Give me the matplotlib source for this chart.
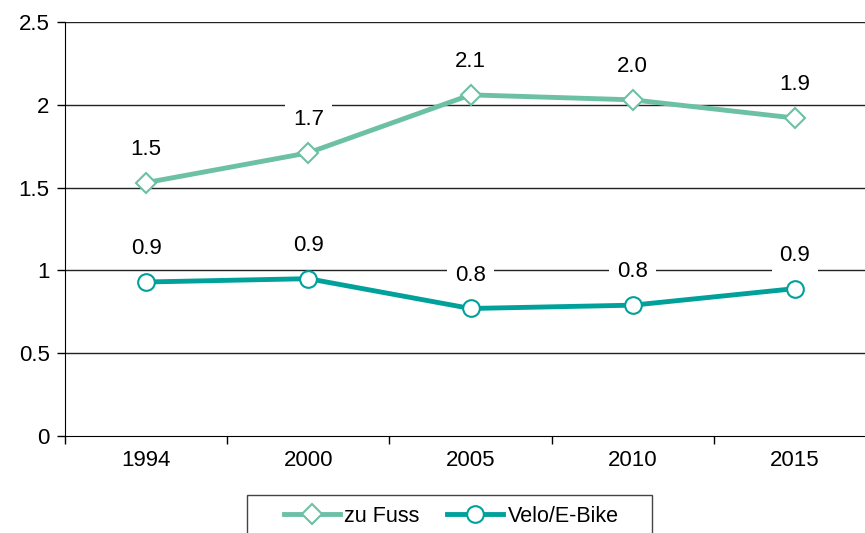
import matplotlib.pyplot as plt
from matplotlib.patches import Rectangle

plt.rcParams['font.family'] = ['Liberation Sans', 'DejaVu Sans']

years = ['1994', '2000', '2005', '2010', '2015']
zu_fuss = [1.53, 1.71, 2.06, 2.03, 1.92]
velo = [0.93, 0.95, 0.77, 0.79, 0.89]
yticks = [0, 0.5, 1, 1.5, 2, 2.5]
ytick_labels = ['0', '0.5', '1', '1.5', '2', '2.5']

c_fuss = '#6cc0a5'
c_velo = '#00a19a'

W, H = 865, 533
fig = plt.figure(figsize=(W / 100, H / 100), dpi=100)
ax = fig.add_axes([65 / W, 1 - 436 / H, 811 / W, 414 / H])

x = list(range(len(years)))
ax.plot(x, zu_fuss, color=c_fuss, lw=3.5, marker='D', ms=10.5, mfc='white',
        mec=c_fuss, mew=1.5, label='zu Fuss', zorder=3)
ax.plot(x, velo, color=c_velo, lw=3.5, marker='o', ms=12, mfc='white',
        mec=c_velo, mew=1.5, label='Velo/E-Bike', zorder=3)

# data labels above each point, white box hides the gridline
for vals in (zu_fuss, velo):
    for xi, v in zip(x, vals):
        ax.annotate(f'{v:.1f}', (xi, v), xytext=(0, 24), textcoords='offset points',
                    ha='center', va='center', fontsize=16,
                    bbox=dict(boxstyle='square,pad=0.35', fc='white', ec='none'),
                    zorder=4)

ax.set_xlim(-0.5, 4.5)
ax.set_ylim(0, 2.5)
ax.set_yticks(yticks)
ax.set_yticklabels(ytick_labels, fontsize=16)
ax.set_xticks(x)
ax.set_xticklabels(years, fontsize=16)
ax.set_xticks([i - 0.5 for i in range(len(years) + 1)], minor=True)
ax.tick_params(axis='x', which='major', length=0, pad=10)
ax.tick_params(axis='x', which='minor', length=6, width=1, direction='out')
ax.tick_params(axis='y', length=6, width=1, direction='out', pad=5)

for y in yticks[1:]:
    ax.axhline(y, color='#222222', lw=1, zorder=1)

ax.spines['top'].set_visible(False)
ax.spines['right'].set_visible(False)

# legend without frame, box drawn separately (cut by the bottom edge)
fig.legend(loc='center', bbox_to_anchor=(451 / W, 1 - 516 / H), ncol=2,
           fontsize=15.5, frameon=False, handlelength=2.6, handletextpad=0.2,
           columnspacing=1.3, borderaxespad=0, borderpad=0)
fig.patches.append(Rectangle((247 / W, -0.05), 405 / W, 0.05 + 1 - 495 / H,
                             transform=fig.transFigure, fill=False,
                             ec='#444444', lw=1))

fig.savefig('out.png', dpi=100)
